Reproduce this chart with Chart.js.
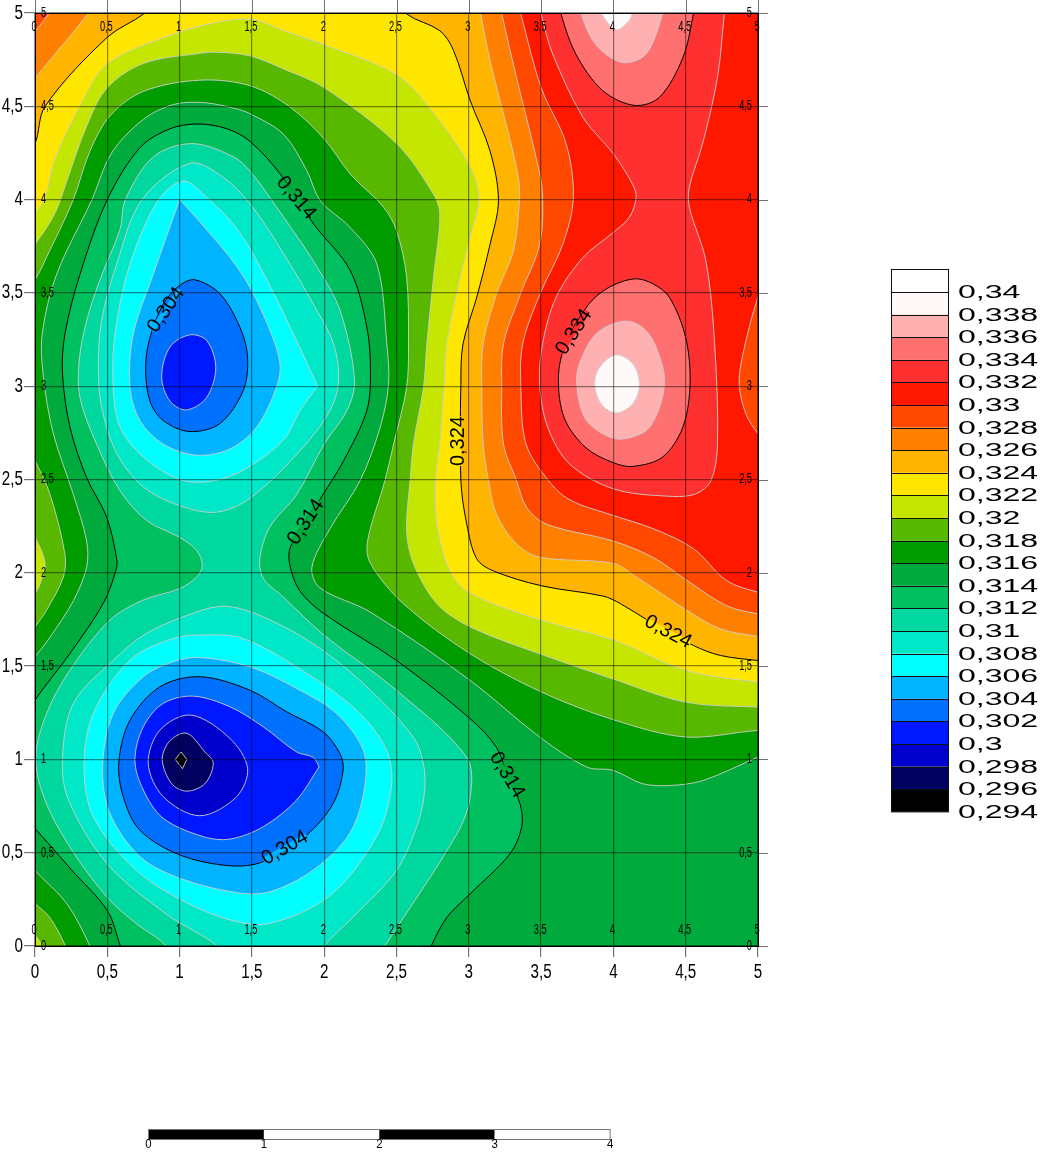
<!DOCTYPE html>
<html><head><meta charset="utf-8">
<style>html,body{margin:0;padding:0;background:#fff}canvas{display:block}</style>
<script src="https://cdn.jsdelivr.net/npm/chart.js@4"></script>
</head><body><div style="width:1040px;height:1154px"><canvas id="c" width="1040" height="1154"></canvas></div>
<script>
const axisTicks=[0,0.5,1,1.5,2,2.5,3,3.5,4,4.5,5];
const legendLabels=['0,34','0,338','0,336','0,334','0,332','0,33','0,328','0,326','0,324','0,322','0,32','0,318','0,316','0,314','0,312','0,31','0,308','0,306','0,304','0,302','0,3','0,298','0,296','0,294'];
const legendColors=['#FFFFFF','#FFF8F8','#FFB0B0','#FF7070','#FF3030','#FF1800','#FF4800','#FF8000','#FFB400','#FFE600','#C4E600','#58B800','#009C00','#00AA3C','#00C060','#00D8A0','#00E8C8','#00FFFF','#00B4FF','#0070FF','#0018FF','#0000CC','#000060','#000000'];
const scaleBarLabels=['0','1','2','3','4'];
const GRAY='rgba(205,205,205,0.9)',BLACK='#000';

// contour lines, in map units [x,y]
const hi316Corner=[[-.15,.55],[0,.405],[.22,.227],[.38,0],[.45,-.15],[-.15,-.15]];
const hi318Corner=[[-.15,.33],[0,.227],[.1,.155],[.21,0],[.27,-.15],[-.15,-.15]];
const hi320Corner=[[-.1,.12],[0,.057],[.05,0],[.1,-.1],[-.1,-.1]];
const hi316=[[-.15,1.42],[0,1.55],[.104,1.655],[.265,1.85],[.357,2.03],[.357,2.17],[.265,2.42],[.127,2.745],[.058,3.05],[.05,3.28],[.15,3.6],[.394,4],[.53,4.25],[.75,4.43],[.96,4.51],[1.166,4.52],[1.373,4.49],[1.488,4.46],[1.718,4.35],[1.88,4.155],[1.972,3.995],[2.18,3.85],[2.364,3.655],[2.433,3.227],[2.445,3.01],[2.387,2.78],[2.249,2.495],[2.04,2.236],[1.915,2.03],[1.97,1.92],[2.318,1.79],[3.01,1.423],[3.49,1.12],[3.816,.959],[4,.941],[4.2,.87],[4.39,.86],[4.62,.887],[5,1.0125],[5.15,1.06],[5.15,5.15],[-.15,5.15]];
const hi318Lens=[[-.15,2.8],[0,2.6],[.104,2.42],[.207,2.1],[.196,1.977],[.08,1.8],[0,1.71],[-.15,1.55]];
const hi320Lens=[[-.1,2.3],[0,2.19],[.069,2.05],[.035,1.94],[0,1.89],[-.1,1.8]];
const hi318=[[-.15,3.42],[0,3.57],[.104,3.73],[.265,4],[.38,4.26],[.52,4.45],[.75,4.58],[1.14,4.64],[1.488,4.61],[1.765,4.495],[2,4.325],[2.18,4.1375],[2.41,3.96],[2.5,3.834],[2.57,3.584],[2.583,3.227],[2.57,2.995],[2.48,2.69],[2.42,2.495],[2.30,2.17],[2.32,2.05],[2.548,1.834],[3.01,1.566],[3.505,1.36],[4,1.2125],[4.5,1.12],[5,1.155],[5.15,1.15],[5.15,5.15],[-.15,5.15]];
const hi320=[[-.15,3.62],[0,3.76],[.14,3.93],[.22,4.1],[.36,4.4],[.5,4.6],[.75,4.73],[1.14,4.784],[1.26,4.79],[1.488,4.77],[1.72,4.7],[2,4.6],[2.5,4.3],[2.755,4.03],[2.8,3.92],[2.756,3.584],[2.71,3.227],[2.687,2.995],[2.617,2.69],[2.594,2.495],[2.57,2.227],[2.617,2.05],[2.78,1.834],[3.01,1.71],[3.49,1.566],[4,1.43],[4.5,1.307],[5,1.28],[5.15,1.28],[5.15,5.15],[-.15,5.15]];
const hi322=[[-.15,3.82],[0,3.93],[.07,4.01],[.13,4.2],[.31,4.5],[.5,4.727],[.96,4.887],[1.26,4.95],[1.5,4.965],[1.72,4.905],[2,4.83],[2.5,4.67],[2.73,4.49],[3,4.19],[3.07,4.01],[3.01,3.8],[2.94,3.584],[2.848,3.227],[2.83,3.01],[2.8,2.69],[2.77,2.495],[2.78,2.26],[2.87,2.01],[3.01,1.89],[3.505,1.745],[4,1.64],[4.5,1.477],[5,1.414],[5.15,1.41],[5.15,5.15],[-.15,5.15]];
const hi324Left=[[-.15,4.1],[0,4.3],[.07,4.5],[.5,4.87],[.76,5],[.95,5.15],[-.15,5.15]];
const hi324=[[2.4,5.15],[2.57,4.995],[2.8,4.905],[2.894,4.8],[3.01,4.53],[3.147,4.26],[3.205,3.995],[3.147,3.76],[3.055,3.477],[2.96,3.227],[2.945,3.01],[2.945,2.495],[2.986,2.26],[3.055,2.075],[3.17,2.01],[3.505,1.93],[3.93,1.875],[4.05,1.834],[4.22,1.754],[4.555,1.61],[4.74,1.557],[5,1.53],[5.15,1.52],[5.15,5.15]];
const hi326Left=[[-.15,4.5],[0,4.65],[.37,5],[.5,5.15],[-.15,5.15]];
const hi326=[[3.05,5.15],[3.083,4.995],[3.147,4.745],[3.263,4.39],[3.343,4.12],[3.35,3.995],[3.31,3.73],[3.19,3.49],[3.1,3.23],[3.09,2.995],[3.1,2.69],[3.136,2.495],[3.19,2.316],[3.33,2.155],[3.49,2.084],[4,2.05],[4.16,1.977],[4.507,1.8],[4.737,1.7],[5,1.66],[5.15,1.65],[5.15,5.15]];
const hi328Left=[[-.1,4.8],[0,4.9],[.1,5],[.2,5.1],[-.1,5.1]];
const hi328=[[3.19,5.15],[3.228,4.995],[3.33,4.655],[3.47,4.21],[3.51,4.03],[3.49,3.76],[3.355,3.49],[3.24,3.227],[3.228,2.995],[3.24,2.69],[3.33,2.495],[3.4,2.35],[3.54,2.26],[4,2.17],[4.28,2.08],[4.507,1.96],[4.78,1.825],[5,1.78],[5.15,1.77],[5.15,5.15]];
const hi330=[[3.31,5.15],[3.36,4.995],[3.5,4.6],[3.673,4.3],[3.723,4.01],[3.65,3.76],[3.49,3.49],[3.373,3.227],[3.36,2.995],[3.396,2.69],[3.55,2.495],[3.7,2.39],[4,2.307],[4.276,2.236],[4.553,2.13],[4.78,1.96],[5,1.896],[5.15,1.88],[5.15,5.15]];
const lo330Edge=[[5.15,3.75],[5,3.477],[4.895,3.17],[4.87,3.01],[4.917,2.85],[5,2.745],[5.15,2.6]];
const hi332=[[3.45,5.15],[3.5,4.995],[3.58,4.78],[3.79,4.44],[4,4.245],[4.134,4.08],[4.157,4.01],[4.11,3.905],[4,3.825],[3.79,3.69],[3.604,3.477],[3.51,3.227],[3.49,3.01],[3.546,2.78],[3.696,2.584],[4,2.45],[4.387,2.41],[4.57,2.423],[4.675,2.495],[4.72,2.69],[4.7,3.227],[4.64,3.67],[4.525,3.96],[4.525,4.066],[4.617,4.3],[4.72,4.655],[4.767,4.995],[4.79,5.15]];
const hi334Top=[[3.6,5.15],[3.638,4.995],[3.74,4.78],[3.926,4.584],[4.145,4.505],[4.318,4.548],[4.48,4.76],[4.553,4.995],[4.58,5.15]];
const hi336Top=[[3.72,5.15],[3.776,4.995],[3.88,4.83],[4.06,4.735],[4.226,4.78],[4.34,4.995],[4.38,5.15]];
const hi338Top=[[3.86,5.12],[3.92,4.995],[4.018,4.91],[4.11,4.96],[4.127,4.995],[4.16,5.12]];
const hi334=[[4.145,3.575],[3.97,3.53],[3.83,3.44],[3.67,3.227],[3.62,3.05],[3.66,2.83],[3.81,2.67],[4,2.59],[4.134,2.57],[4.34,2.62],[4.48,2.78],[4.53,3.01],[4.5,3.26],[4.387,3.477],[4.27,3.55]];
const hi336=[[4.065,3.348],[3.88,3.28],[3.765,3.12],[3.746,3.01],[3.8,2.834],[3.926,2.745],[4.065,2.717],[4.25,2.78],[4.353,3.01],[4.295,3.21],[4.2,3.316]];
const hi338=[[4.018,3.168],[3.903,3.1],[3.87,3.01],[3.915,2.905],[4.018,2.857],[4.134,2.905],[4.18,3.01],[4.134,3.12]];

const lo314=[[-.15,.75],[0,.63],[.25,.41],[.5,.19],[.59,0],[.66,-.15],[2.66,-.15],[2.74,0],[2.85,.155],[3.01,.28],[3.286,.495],[3.366,.64],[3.355,.76],[3.264,.92],[3.19,1.066],[3.01,1.218],[2.5,1.53],[2,1.78],[1.83,1.905],[1.76,2.05],[1.767,2.14],[1.874,2.27],[1.984,2.41],[2.134,2.6],[2.295,2.87],[2.32,3.08],[2.295,3.316],[2.18,3.62],[1.926,3.87],[1.696,4.137],[1.49,4.31],[1.327,4.38],[1.12,4.405],[.935,4.38],[.728,4.28],[.5,4],[.311,3.6],[.207,3.28],[.19,3.07],[.242,2.78],[.357,2.51],[.495,2.3],[.565,2.075],[.56,2.014],[.472,1.836],[.242,1.568],[0,1.318],[-.15,1.12]];
const lo312=[[.98,-.15],[.905,0],[.7,.12],[.5,.26],[.25,.52],[.07,.78],[.005,1.01],[.08,1.246],[.242,1.479],[.518,1.746],[.749,1.854],[1,1.915],[1.118,1.977],[1.157,2.04],[1.118,2.12],[1,2.19],[.772,2.28],[.588,2.44],[.426,2.69],[.311,2.94],[.306,3.14],[.357,3.35],[.449,3.57],[.588,3.84],[.625,4],[.82,4.23],[1.085,4.3],[1.37,4.23],[1.49,4.15],[1.72,3.905],[1.95,3.64],[2.11,3.405],[2.21,3.03],[2.157,2.87],[2,2.69],[1.81,2.42],[1.624,2.245],[1.555,2.075],[1.58,1.97],[1.717,1.87],[2,1.665],[2.5,1.37],[2.986,1.01],[3.01,.8],[2.917,.6],[2.42,0],[2.3,-.15]];
const lo310Up=[[1.074,4.195],[.74,4],[.565,3.655],[.46,3.35],[.438,3.1],[.46,2.89],[.565,2.64],[.749,2.46],[1,2.36],[1.256,2.325],[1.488,2.4],[1.834,2.655],[2.04,2.87],[2.1,3.03],[2.065,3.227],[1.95,3.405],[1.72,3.71],[1.488,3.977],[1.3,4.12]];
const lo308Up=[[1.03,4.1],[.855,4],[.657,3.655],[.553,3.28],[.54,3],[.588,2.78],[.749,2.62],[1,2.5],[1.21,2.49],[1.44,2.55],[1.717,2.71],[1.834,2.87],[1.955,3.0],[1.955,3.0],[1.72,3.39],[1.5,3.72],[1.37,3.87],[1.19,4.01]];
const lo306Up=[[1,4],[1,4],[.818,3.6],[.68,3.28],[.657,3],[.726,2.816],[.887,2.69],[1.118,2.63],[1.348,2.664],[1.532,2.78],[1.67,2.995],[1.694,3.12],[1.624,3.3],[1.486,3.53],[1.348,3.69],[1.118,3.9]];
const lo304Up=[[1.106,3.57],[1,3.54],[.887,3.44],[.795,3.26],[.765,3.1],[.795,2.92],[.887,2.816],[1.07,2.757],[1.279,2.8],[1.44,2.977],[1.47,3.155],[1.417,3.316],[1.279,3.495]];
const lo302Up=[[1.07,3.275],[.933,3.21],[.876,3.05],[.933,2.92],[1.048,2.873],[1.187,2.94],[1.25,3.1],[1.187,3.245]];
const lo310=[[1.9,-.15],[2,0],[2.2,.155],[2.5,.405],[2.64,.64],[2.69,.8],[2.69,.96],[2.615,1.12],[2.27,1.407],[1.924,1.62],[1.578,1.764],[1.325,1.82],[1.118,1.79],[.77,1.675],[.54,1.53],[.265,1.3],[.19,1],[.233,.78],[.5,.44],[.91,.17],[1.26,0],[1.4,-.15]];
const lo308=[[1.21,1.667],[1.44,1.648],[1.809,1.496],[2.224,1.264],[2.431,1.05],[2.465,.854],[2.362,.586],[2.04,.27],[1.624,.121],[1.348,.14],[1.002,.25],[.68,.42],[.403,.693],[.339,.961],[.403,1.246],[.657,1.532],[.956,1.648]];
const lo306=[[1.14,1.546],[1.486,1.496],[1.809,1.38],[2.085,1.246],[2.27,1.05],[2.28,.854],[2.177,.604],[1.924,.407],[1.624,.291],[1.394,.286],[1.002,.363],[.726,.479],[.518,.711],[.468,.961],[.541,1.246],[.749,1.443],[.956,1.523]];
const lo304=[[1.14,1.443],[1.486,1.371],[1.74,1.255],[1.993,1.148],[2.108,1.032],[2.131,.943],[2.062,.764],[1.878,.595],[1.578,.452],[1.348,.43],[1.002,.488],[.726,.62],[.61,.8],[.58,.987],[.657,1.21],[.864,1.389]];
const lo302=[[1.094,1.339],[1.348,1.282],[1.578,1.175],[1.809,1.04],[1.924,1.011],[1.965,.961],[1.965,.961],[1.809,.782],[1.578,.639],[1.348,.573],[1.164,.586],[.887,.684],[.749,.836],[.691,.996],[.749,1.175],[.887,1.30]];
const lo300=[[1.078,1.2375],[1.348,1.1125],[1.47,.952],[1.394,.80],[1.14,.698],[.887,.80],[.783,.979],[.864,1.157]];
const lo298=[[1.05,1.14],[1.175,1.04],[1.233,.98],[1.175,.87],[1.05,.83],[.945,.87],[.88,1],[.933,1.10]];
const lo296=[[1.01,1.04],[1.01,1.04],[1.05,1],[1.05,1],[1.02,.95],[1.02,.95],[.97,1],[.97,1]];

// [points, band colour, line colour]
const layers=[
 [hi316Corner,'#009C00',GRAY],[hi316,'#009C00',GRAY],
 [hi318Corner,'#58B800',GRAY],[hi318Lens,'#58B800',GRAY],[hi318,'#58B800',GRAY],
 [hi320Corner,'#C4E600',GRAY],[hi320Lens,'#C4E600',GRAY],[hi320,'#C4E600',GRAY],
 [hi322,'#FFE600',GRAY],
 [hi324Left,'#FFB400',BLACK],[hi324,'#FFB400',BLACK],
 [hi326Left,'#FF8000',GRAY],[hi326,'#FF8000',GRAY],
 [hi328Left,'#FF4800',GRAY],[hi328,'#FF4800',GRAY],
 [hi330,'#FF1800',GRAY],[lo330Edge,'#FF4800',GRAY],
 [hi332,'#FF3030',GRAY],
 [hi334Top,'#FF7070',BLACK],[hi334,'#FF7070',BLACK],
 [hi336Top,'#FFB0B0',GRAY],[hi336,'#FFB0B0',GRAY],
 [hi338Top,'#FFF8F8',GRAY],[hi338,'#FFF8F8',GRAY],
 [lo314,'#00C060',BLACK],[lo312,'#00D8A0',GRAY],
 [lo310Up,'#00E8C8',GRAY],[lo308Up,'#00FFFF',GRAY],[lo306Up,'#00B4FF',GRAY],[lo304Up,'#0070FF',BLACK],[lo302Up,'#0018FF',GRAY],
 [lo310,'#00E8C8',GRAY],[lo308,'#00FFFF',GRAY],[lo306,'#00B4FF',GRAY],[lo304,'#0070FF',BLACK],[lo302,'#0018FF',GRAY],[lo300,'#0000CC',GRAY],[lo298,'#000060',GRAY],[lo296,'#000000',GRAY]
];
// contour labels: text, x, y, angle, colour behind
const contourText=['0,314','0,304','0,314','0,304','0,334','0,324','0,324','0,314'];
const contourX=[1.805,.906,1.874,1.729,3.728,2.932,4.378,3.264];
const contourY=[4.008,3.408,2.272,.525,3.29,2.706,1.683,.916];
const contourAngle=[50,-55,-56,-30,-57,-90,28,59];
const contourBack=['#00AA3C','#00B4FF','#00AA3C','#00B4FF','#FF3030','#FFE600','#FFE600','#00AA3C'];

const datasets=layers.map(l=>({
  data:l[0].map(q=>({x:q[0],y:q[1]})),showLine:true,fill:'shape',backgroundColor:l[1],borderColor:l[2],
  borderWidth:1,pointRadius:0,tension:.33,capBezierPoints:false
})).reverse();

function txt(ctx,s,x,y,size,sx,align,rot){
  ctx.save();ctx.translate(x,y);if(rot)ctx.rotate(rot);ctx.scale(sx,1);
  ctx.font=size+'px "Liberation Sans"';ctx.textAlign=align||'center';ctx.textBaseline='middle';ctx.fillStyle='#000';
  ctx.fillText(s,0,0);ctx.restore();
}
const decor={id:'decor',
 afterDatasetsUpdate(ch){ // every contour is a closed ring
  ch.getSortedVisibleDatasetMetas().forEach(m=>{const l=m.dataset;if(l){l._loop=true;l._fullLoop=true;l._pointsUpdated=false;l._segments=undefined;l._path=undefined;}});
 },
 beforeDatasetsDraw(ch){const a=ch.chartArea,c=ch.ctx;c.save();c.fillStyle='#00AA3C';c.fillRect(a.left,a.top,a.width,a.height);c.restore();},
 afterDraw(ch){
  const c=ch.ctx,a=ch.chartArea,X=ch.scales.x,Y=ch.scales.y;
  c.save();
  c.strokeStyle='rgba(0,0,0,.55)';c.lineWidth=1;c.beginPath();
  axisTicks.forEach(v=>{const px=Math.round(X.getPixelForValue(v))+.5,py=Math.round(Y.getPixelForValue(v))+.5;
    c.moveTo(px,a.top);c.lineTo(px,0);c.moveTo(a.right,py);c.lineTo(a.right+10,py);});
  c.stroke();
  c.strokeStyle='#000';c.strokeRect(a.left+.5,a.top+.5,a.width,a.height);
  axisTicks.forEach(v=>{const s=String(v).replace('.',',');const px=X.getPixelForValue(v),py=Y.getPixelForValue(v);
    txt(c,s,px,972,20,.76);txt(c,s,23,py,20,.76,'right');
    txt(c,s,px-1,a.top+14,14,.66);txt(c,s,px-1,a.bottom-16,14,.66);
    txt(c,s,a.left+6,py,14,.66,'left');txt(c,s,a.right-6,py,14,.66,'right');});
  contourText.forEach((s,i)=>{const px=X.getPixelForValue(contourX[i]),py=Y.getPixelForValue(contourY[i]),r=contourAngle[i]*Math.PI/180;
    c.save();c.translate(px,py);c.rotate(r);c.fillStyle=contourBack[i];c.fillRect(-25,-2.5,50,5);c.restore();
    txt(c,s,px,py,20,1,'center',r);});
  const lx=891,lw=58,top=269.4,h=22.6;
  legendColors.forEach((col,i)=>{c.fillStyle=col;c.fillRect(lx,top+i*h,lw,h);});
  c.strokeStyle='#111';c.lineWidth=1;
  for(let i=1;i<legendColors.length;i++){const y=Math.round(top+i*h)+.5;c.beginPath();c.moveTo(lx,y);c.lineTo(lx+lw,y);c.stroke();}
  c.strokeRect(lx+.5,Math.round(top)+.5,lw-1,legendColors.length*h);
  legendLabels.forEach((s,i)=>txt(c,s,958,top+(i+1)*h+1,18,1.78,'left'));
  const bx=148.5,bw=115.4,by=1129,bh=10;
  for(let i=0;i<4;i++){c.fillStyle=i%2?'#fff':'#000';c.fillRect(bx+i*bw,by,bw,bh);}
  c.strokeStyle='#777';c.strokeRect(bx,by+.5,4*bw,bh);
  scaleBarLabels.forEach((s,i)=>txt(c,s,bx+i*bw,by+16,12,.95));
  c.restore();
 }};
const axis=(extra)=>Object.assign({type:'linear',min:0,max:5,
  grid:{z:1,color:'rgba(0,0,0,.45)',lineWidth:1.2,tickLength:11,tickColor:'rgba(0,0,0,.55)'},
  border:{display:false},
  ticks:{stepSize:.5,autoSkip:false,maxRotation:0,display:false}},extra);
new Chart(document.getElementById('c'),{type:'scatter',data:{datasets},plugins:[decor],options:{
  responsive:false,animation:false,events:[],
  layout:{padding:{left:0,top:13,right:282,bottom:0}},
  plugins:{legend:{display:false},tooltip:{enabled:false},title:{display:false}},
  scales:{x:axis({position:'bottom',afterFit(s){s.height=208;}}),y:axis({position:'left',afterFit(s){s.width=35;}})}
}});
</script></body></html>
